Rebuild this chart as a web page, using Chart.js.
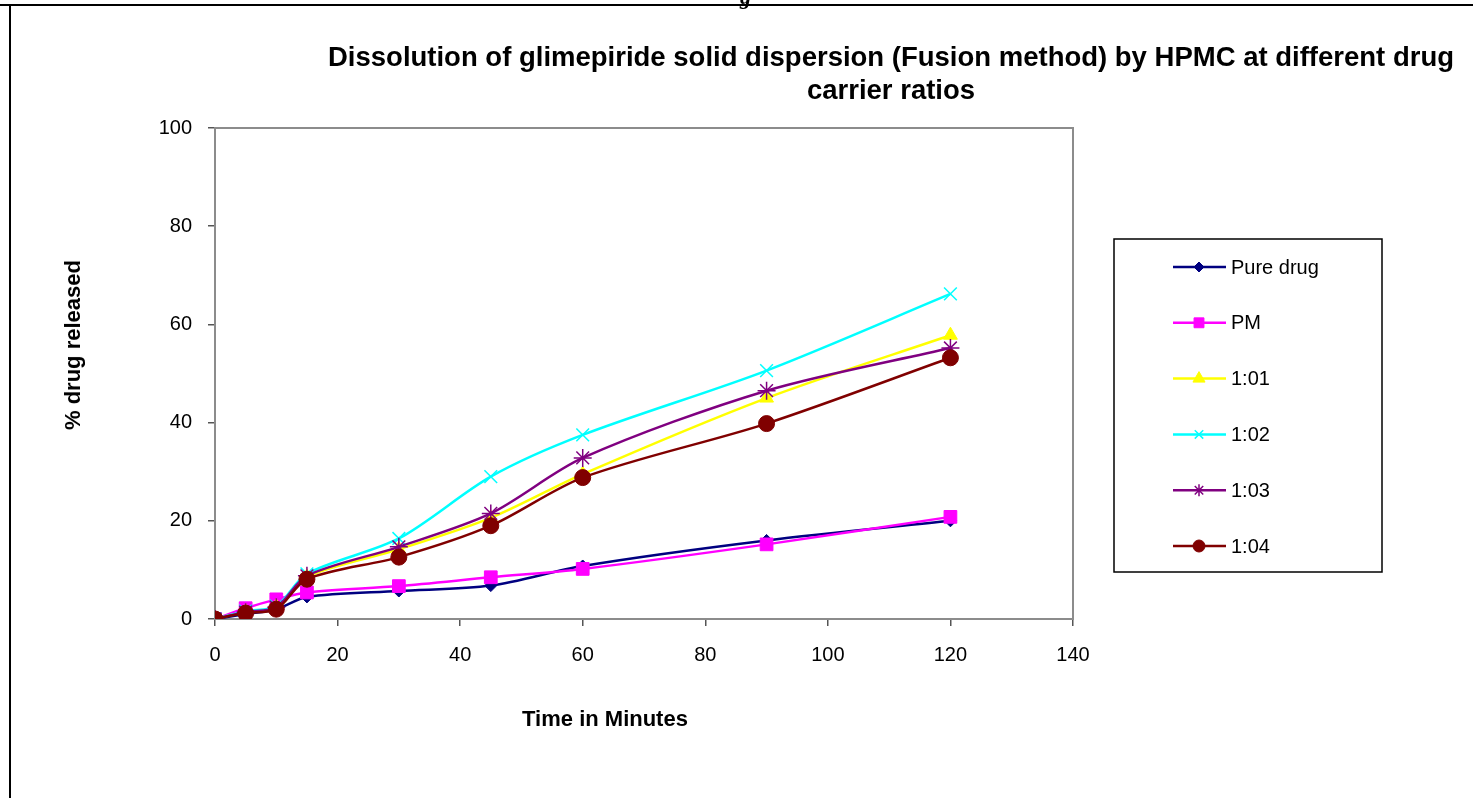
<!DOCTYPE html>
<html>
<head>
<meta charset="utf-8">
<script src="https://cdn.jsdelivr.net/npm/chart.js@4.4.1/dist/chart.umd.min.js"></script>
<style>
  body { margin: 0; background: #fff; overflow: hidden; }
  #wrap { position: relative; width: 1473px; height: 798px; font-family: "Liberation Sans", Arial, sans-serif; }
  canvas { position: absolute; left: 0; top: 0; }
  .frameTop { position: absolute; left: 0; top: 4px; width: 1473px; height: 2px; background: #000; }
  .frameLeft { position: absolute; left: 9px; top: 4px; width: 2px; height: 794px; background: #000; }
  .cut { position: absolute; left: 740px; top: -16px; font: italic bold 22px "Liberation Serif", serif; }
  .title { position: absolute; left: 191px; width: 1400px; top: 40px; text-align: center; font-weight: bold; font-size: 27.5px; line-height: 33px; }
  .xTitle { position: absolute; left: 455px; width: 300px; top: 706px; text-align: center; font-weight: bold; font-size: 22px; }
  .yTitle { position: absolute; left: 73px; top: 345px; transform: translate(-50%, -50%) rotate(-90deg); white-space: nowrap; font-weight: bold; font-size: 22px; }
</style>
</head>
<body>
<div id="wrap">
  <canvas id="chart" width="1473" height="798"></canvas>
  <div class="frameTop"></div>
  <div class="frameLeft"></div>
  <div class="cut">g</div>
  <div class="title">Dissolution of glimepiride solid dispersion (Fusion method) by HPMC at different drug<br>carrier ratios</div>
  <div class="xTitle">Time in Minutes</div>
  <div class="yTitle">% drug released</div>
</div>
<script>
// time points (minutes)
const times = [0, 5, 10, 15, 30, 45, 60, 90, 120];

// % drug released
const pureDrug = [0, 1, 2, 4.5, 5.7, 6.8, 10.8, 16, 20];
const pm = [0, 2.2, 4, 5.4, 6.7, 8.5, 10.2, 15.2, 20.8];
const ratio101 = [0, 1.5, 2.5, 8.6, 14.2, 20.6, 29.5, 45, 57.8];
const ratio102 = [0, 1.6, 2.6, 9.2, 16.4, 29, 37.5, 50.6, 66.2];
const ratio103 = [0, 1.4, 2.4, 8.8, 14.7, 21.5, 32.8, 46.5, 55.2];
const ratio104 = [0, 1.2, 2, 8.1, 12.6, 19, 28.8, 39.8, 53.2];

const seriesNames = ["Pure drug", "PM", "1:01", "1:02", "1:03", "1:04"];
const seriesValues = [pureDrug, pm, ratio101, ratio102, ratio103, ratio104];

const xTicks = [0, 20, 40, 60, 80, 100, 120, 140];
const yTicks = [0, 20, 40, 60, 80, 100];

const styles = [
  { color: "#000080", point: "rectRot", radius: 6, legendRadius: 5, width: 1 },
  { color: "#FF00FF", point: "rect", radius: 9, legendRadius: 7, width: 1 },
  { color: "#FFFF00", point: "triangle", radius: 8, legendRadius: 7, width: 1 },
  { color: "#00FFFF", point: "crossRot", radius: 9, legendRadius: 6, width: 1.5 },
  { color: "#800080", point: "star", radius: 9, legendRadius: 6, width: 1.5 },
  { color: "#800000", point: "circle", radius: 8, legendRadius: 6, width: 1 },
];

const datasets = seriesValues.map((vals, i) => ({
  label: seriesNames[i],
  data: vals.map((v, j) => ({ x: times[j], y: v })),
  borderColor: styles[i].color,
  backgroundColor: styles[i].color,
  borderWidth: 2.5,
  pointStyle: styles[i].point,
  pointRadius: styles[i].radius,
  pointBorderWidth: styles[i].width,
  pointBorderColor: styles[i].color,
  pointBackgroundColor: styles[i].color,
  tension: 0.3,
  fill: false,
  order: seriesNames.length - i,
}));

// gray box round the plot area
const plotBox = {
  id: "plotBox",
  beforeDatasetsDraw(chart) {
    const { ctx, chartArea: a } = chart;
    ctx.save();
    ctx.strokeStyle = "#8c8c8c";
    ctx.lineWidth = 2;
    ctx.strokeRect(a.left, a.top, a.right - a.left, a.bottom - a.top);
    ctx.restore();
  },
};

// legend with a border, drawn from the datasets
const boxLegend = {
  id: "boxLegend",
  afterDraw(chart) {
    const ctx = chart.ctx;
    const left = 1114, top = 239, w = 268, h = 333;
    ctx.save();
    ctx.strokeStyle = "#000";
    ctx.lineWidth = 1.5;
    ctx.strokeRect(left, top, w, h);
    ctx.font = '20px "Liberation Sans", Arial, sans-serif';
    ctx.textBaseline = "middle";
    chart.data.datasets.forEach((ds, i) => {
      const y = 267 + i * 55.8;
      ctx.strokeStyle = ds.borderColor;
      ctx.fillStyle = ds.borderColor;
      ctx.lineWidth = 2.5;
      ctx.beginPath();
      ctx.moveTo(1173, y);
      ctx.lineTo(1226, y);
      ctx.stroke();
      ctx.lineWidth = ds.pointBorderWidth;
      Chart.helpers.drawPoint(ctx, {
        pointStyle: ds.pointStyle,
        radius: styles[i].legendRadius,
        rotation: 0,
        borderWidth: ds.pointBorderWidth,
      }, 1199, y);
      ctx.fillStyle = "#000";
      ctx.fillText(ds.label, 1231, y + 1);
    });
    ctx.restore();
  },
};

new Chart(document.getElementById("chart"), {
  type: "line",
  data: { datasets: datasets },
  plugins: [plotBox, boxLegend],
  options: {
    responsive: false,
    animation: false,
    devicePixelRatio: 1,
    layout: { padding: { top: 128, right: 400, left: 0, bottom: 0 } },
    plugins: {
      legend: { display: false },
      title: { display: false },
      tooltip: { enabled: false },
    },
    scales: {
      x: {
        type: "linear",
        min: 0,
        max: 140,
        afterFit: (scale) => { scale.height = 179; },
        afterBuildTicks: (scale) => { scale.ticks = xTicks.map((v) => ({ value: v })); },
        grid: { drawOnChartArea: false, tickLength: 7, color: "#555", lineWidth: 1.5 },
        border: { color: "#555", width: 2 },
        ticks: { color: "#000", padding: 17, font: { size: 20, family: '"Liberation Sans", Arial' } },
      },
      y: {
        min: 0,
        max: 100,
        afterFit: (scale) => { scale.width = 215; },
        afterBuildTicks: (scale) => { scale.ticks = yTicks.map((v) => ({ value: v })); },
        grid: { drawOnChartArea: false, tickLength: 7, color: "#555", lineWidth: 1.5 },
        border: { color: "#555", width: 2 },
        ticks: { color: "#000", padding: 16, font: { size: 20, family: '"Liberation Sans", Arial' } },
      },
    },
  },
});
</script>
</body>
</html>
